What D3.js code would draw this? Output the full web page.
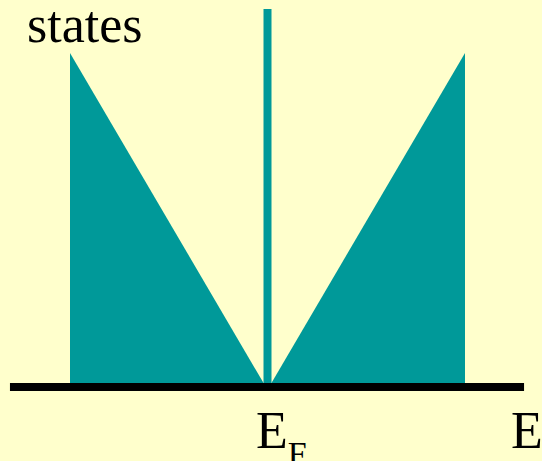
<!DOCTYPE html>
<html><head><meta charset="utf-8">
<script src="https://cdn.jsdelivr.net/npm/d3@7/dist/d3.min.js"></script>
<style>html,body{margin:0;padding:0;background:#FFFFCC;}svg{display:block;}</style>
</head><body>
<script>
// Density of states on each side of the Fermi level (relative energy, relative density)
const leftE = [-1, -0.02];
const leftG = [1, 0];
const rightE = [0.02, 1];
const rightG = [0, 1];
const spikeE = [0];
const spikeG = [1.133];
const axisExtent = [-1.304, 1.299];
const yLabel = "states";
const xLabel = "E";
const fermiLabel = "E";
const fermiSub = "F";

const W = 542, H = 461;
const svg = d3.select("body").append("svg").attr("width", W).attr("height", H);
svg.append("rect").attr("width", W).attr("height", H).attr("fill", "#FFFFCC");

const x = d3.scaleLinear().domain([-1, 1]).range([70, 465]);
const y = d3.scaleLinear().domain([0, 1]).range([383, 53]);
const teal = "#009999";

const area = d3.area().x(d => x(d.E)).y0(y(0)).y1(d => y(d.g));
const leftData = leftE.map((E, i) => ({E, g: leftG[i]}));
const rightData = rightE.map((E, i) => ({E, g: rightG[i]}));
svg.append("path").datum(leftData).attr("d", area).attr("fill", teal);
svg.append("path").datum(rightData).attr("d", area).attr("fill", teal);

svg.selectAll("line.spike").data(spikeE).enter().append("line")
  .attr("class", "spike")
  .attr("x1", d => x(d)).attr("x2", d => x(d))
  .attr("y1", y(0)).attr("y2", (d, i) => y(spikeG[i]))
  .attr("stroke", teal).attr("stroke-width", 8);

svg.append("line")
  .attr("x1", x(axisExtent[0])).attr("x2", x(axisExtent[1]))
  .attr("y1", y(0) + 4).attr("y2", y(0) + 4)
  .attr("stroke", "#000").attr("stroke-width", 8);

const font = "'Liberation Serif','Times New Roman',serif";
svg.append("text").attr("x", 27).attr("y", 42)
  .attr("font-family", font).attr("font-size", 52).attr("fill", "#000").text(yLabel);

const ef = svg.append("text").attr("x", 256).attr("y", 448)
  .attr("font-family", font).attr("font-size", 52).attr("fill", "#000");
ef.append("tspan").text(fermiLabel);
ef.append("tspan").attr("font-size", 34).attr("dy", 17).text(fermiSub);

svg.append("text").attr("x", 511).attr("y", 448)
  .attr("font-family", font).attr("font-size", 52).attr("fill", "#000").text(xLabel);
</script>
</body></html>
